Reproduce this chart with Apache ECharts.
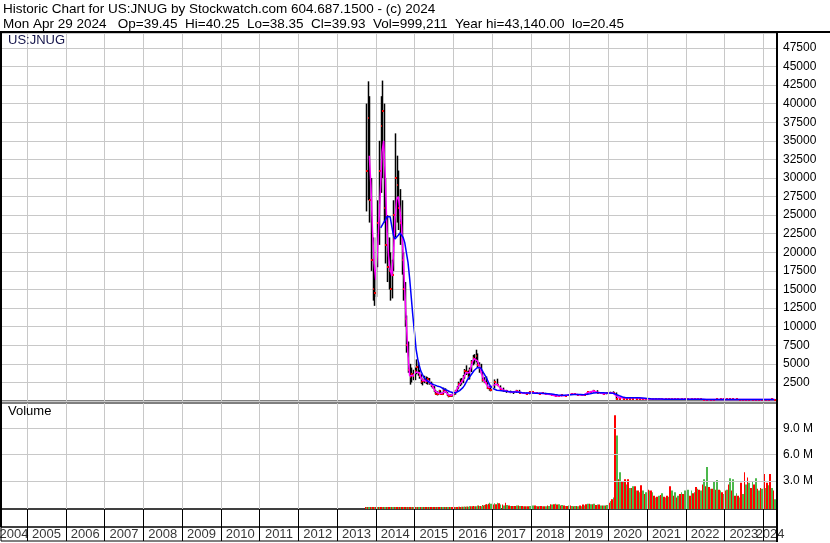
<!DOCTYPE html>
<html><head><meta charset="utf-8">
<script src="https://cdn.jsdelivr.net/npm/echarts@6/dist/echarts.min.js"></script>
<style>html,body{margin:0;padding:0;background:#fff}#c{width:830px;height:543px}</style>
</head><body><div id="c"></div>
<script>
// ---------------- data ----------------
const dates = [
"2013-10-01","2013-10-16","2013-11-01","2013-11-16","2013-12-01","2013-12-16",
"2014-01-01","2014-01-16","2014-02-01","2014-02-16","2014-03-01","2014-03-16","2014-04-01","2014-04-16","2014-05-01","2014-05-16","2014-06-01","2014-06-16",
"2014-07-01","2014-07-16","2014-08-01","2014-08-16","2014-09-01","2014-09-16","2014-10-01","2014-10-16","2014-11-01","2014-11-16","2014-12-01","2014-12-16",
"2015-01-01","2015-01-16","2015-02-01","2015-02-16","2015-03-01","2015-03-16","2015-04-01","2015-04-16","2015-05-01","2015-05-16","2015-06-01","2015-06-16",
"2015-07-01","2015-07-16","2015-08-01","2015-08-16","2015-09-01","2015-09-16","2015-10-01","2015-10-16","2015-11-01","2015-11-16","2015-12-01","2015-12-16",
"2016-01-01","2016-01-16","2016-02-01","2016-02-16","2016-03-01","2016-03-16","2016-04-01","2016-04-16","2016-05-01","2016-05-16","2016-06-01","2016-06-16",
"2016-07-01","2016-07-16","2016-08-01","2016-08-16","2016-09-01","2016-09-16","2016-10-01","2016-10-16","2016-11-01","2016-11-16","2016-12-01","2016-12-16",
"2017-01-15","2017-02-15","2017-03-15","2017-04-15","2017-05-15","2017-06-15","2017-07-15","2017-08-15","2017-09-15","2017-10-15","2017-11-15","2017-12-15",
"2018-01-15","2018-02-15","2018-03-15","2018-04-15","2018-05-15","2018-06-15","2018-07-15","2018-08-15","2018-09-15","2018-10-15","2018-11-15","2018-12-15",
"2019-01-15","2019-02-15","2019-03-15","2019-04-15","2019-05-15","2019-06-15","2019-07-15","2019-08-15","2019-09-15","2019-10-15","2019-11-15","2019-12-15",
"2020-01-15","2020-02-15","2020-03-15","2020-04-15","2020-05-15","2020-06-15","2020-07-15","2020-08-15","2020-09-15","2020-10-15","2020-11-15","2020-12-15",
"2021-01-15","2021-02-15","2021-03-15","2021-04-15","2021-05-15","2021-06-15","2021-07-15","2021-08-15","2021-09-15","2021-10-15","2021-11-15","2021-12-15",
"2022-01-15","2022-02-15","2022-03-15","2022-04-15","2022-05-15","2022-06-15","2022-07-15","2022-08-15","2022-09-15","2022-10-15","2022-11-15","2022-12-15",
"2023-01-15","2023-02-15","2023-03-15","2023-04-15","2023-05-15","2023-06-15","2023-07-15","2023-08-15","2023-09-15","2023-10-15","2023-11-15","2023-12-15",
"2024-01-15","2024-02-15","2024-03-15","2024-04-15"
];

const high = [
40000,43000,41000,30000,22000,17500,
22000,27000,35000,41000,43100,40000,30000,25000,22000,20000,19000,27000,36000,33000,31000,28500,27000,20000,16000,11500,8000,5000,4500,4200,
4500,5600,5200,4200,3600,3000,3400,3300,3200,3100,2600,2300,2000,1500,1300,1500,1400,1200,1800,1700,1200,900,900,1000,
1000,1500,2000,2600,3000,3100,3500,4300,4800,4100,4500,5500,6200,6300,6900,6400,5200,5000,3900,3200,3300,2500,2000,1900,
2900,3000,2100,1800,1500,1400,1300,1500,1500,1200,1150,1250,
1350,1200,1100,1150,1100,1000,950,850,750,850,820,900,
1000,1050,950,900,850,1200,1350,1500,1450,1200,1150,1100,
1250,1300,1150,380,380,390,400,380,370,350,340,330,
320,310,310,310,320,300,300,290,280,280,290,280,
280,290,300,300,280,270,260,260,260,270,280,280,
280,270,270,270,260,260,260,260,250,260,260,260,
260,260,270,260
];

const low = [
25500,27000,24000,17500,13500,12800,
14000,18000,21000,28000,30000,24000,18500,16000,15000,13500,13800,17500,22000,24000,23000,21000,17000,13500,10000,6500,3800,2200,2500,2800,
2800,3600,3400,3000,2300,2100,2400,2300,2200,2200,1900,1700,1200,900,750,900,900,800,1000,1100,700,500,550,600,
600,850,1300,1700,2000,2200,2400,3000,3500,2900,2900,3900,4800,5000,5200,4500,3800,3600,2600,2400,2200,1600,1400,1300,
1700,2000,1400,1300,1100,1050,950,1100,1050,950,900,900,
1050,950,900,950,900,850,780,620,580,620,650,700,
800,850,780,720,700,800,1050,1150,1050,1000,900,900,
950,1000,200,180,200,210,220,210,200,190,180,180,
170,170,170,170,180,160,160,160,150,150,160,150,
150,160,170,170,150,140,140,140,140,140,150,150,
150,150,150,150,140,140,140,140,130,140,140,140,
140,140,150,140
];

const close = [
31000,38000,27000,19000,15000,14500,
20000,24000,31000,37000,39000,26000,21000,18000,17500,15000,17000,25000,30000,29000,26000,24000,19000,15000,11000,7500,4200,3200,3600,3300,
4000,4600,3800,3300,2500,2700,2800,2600,2900,2400,2100,1900,1300,1000,900,1300,1000,1000,1500,1300,800,650,700,850,
900,1400,1800,2300,2400,2700,3200,4000,3900,3200,4200,5200,5800,5600,6000,4800,4500,3900,2800,2600,2400,1800,1600,1500,
2500,2200,1600,1400,1300,1150,1200,1350,1100,1050,1000,1150,
1150,1050,1000,1050,950,900,820,650,680,760,700,850,
950,900,850,780,820,1150,1250,1400,1100,1100,950,1050,
1100,1050,300,260,280,300,310,290,280,270,260,250,
250,240,240,240,250,230,230,220,210,210,220,210,
210,220,230,230,210,200,200,200,200,205,215,215,
215,210,210,210,200,200,200,200,190,200,200,200,
200,200,210,200
];

const maFast = [
null,null,33000,29000,23000,18500,
16300,20000,24400,29000,33500,35000,30000,23000,19500,17700,16800,19500,24400,27100,27500,25800,23500,19500,15000,10500,6100,3400,3200,3400,
3300,3900,4100,3800,3200,2800,2700,2700,2700,2700,2400,2100,1700,1300,1050,1050,1100,1050,1250,1300,1100,850,720,760,
850,1100,1450,1900,2200,2500,2800,3400,3800,3700,3800,4500,5300,5700,5900,5400,4800,4200,3400,2800,2500,2100,1800,1600,
2100,2300,1800,1500,1350,1200,1170,1300,1200,1080,1020,1100,
1150,1080,1020,1030,980,920,850,700,680,740,720,820,
920,920,870,800,810,1050,1220,1350,1200,1100,980,1030,
1080,1080,700,450,440,440,440,440,430,400,350,300,
270,260,255,250,255,250,245,235,225,222,225,222,
222,225,235,238,225,212,205,200,200,205,215,220,
218,212,210,210,205,200,200,200,195,198,200,200,
200,200,205,202
];

const maSlow = [
null,null,null,null,null,null,
null,null,null,23300,23500,24000,24300,24800,25000,24800,23500,22300,21800,21700,22300,22600,22400,22000,21300,20000,18600,16500,14000,11500,
9200,6950,5600,4700,4050,3600,3150,2900,2700,2550,2400,2260,2200,2100,2030,1950,1900,1800,1650,1550,1450,1350,1250,1150,
1100,1100,1150,1250,1400,1600,1800,2100,2500,2900,3200,3500,3800,4100,4350,4500,4550,4450,4100,3700,3300,2900,2400,2000,
1650,1450,1400,1350,1300,1250,1200,1200,1180,1120,1080,1060,
1060,1050,1040,1030,1010,990,950,880,820,790,780,800,
840,870,880,870,850,900,980,1080,1120,1120,1100,1080,
1060,1040,900,700,550,450,440,440,440,430,420,380,
320,280,260,255,255,252,250,245,238,232,230,228,
225,226,230,234,232,225,218,210,205,205,210,215,
218,216,214,212,210,206,204,202,200,199,199,200,
200,200,202,202
];

// volume in millions: largest up-day and down-day volume within each period
const volUp = [
0.02,0.03,0.02,0.03,0.03,0.02,
0.03,0.02,0.03,0.03,0.02,0.03,0.02,0.02,0.03,0.02,0.03,0.03,0.02,0.03,0.02,0.02,0.03,0.02,0.03,0.03,0.02,0.03,0.02,0.03,
0.03,0.02,0.02,0.03,0.02,0.03,0.02,0.03,0.02,0.02,0.03,0.02,0.03,0.02,0.03,0.03,0.02,0.03,0.02,0.03,0.02,0.03,0.03,0.02,
0.03,0.04,0.03,0.05,0.04,0.05,0.06,0.05,0.08,0.06,0.1,0.12,0.15,0.1,0.12,0.2,0.15,0.12,0.2,0.25,0.35,0.3,0.5,0.4,
0.45,0.5,0.3,0.2,0.25,0.15,0.15,0.2,0.15,0.1,0.1,0.15,
0.2,0.15,0.15,0.1,0.12,0.15,0.3,0.4,0.35,0.25,0.15,0.2,
0.15,0.15,0.1,0.12,0.2,0.4,0.35,0.4,0.3,0.2,0.2,0.25,
0.7,1.1,8.2,4.0,3.0,2.6,2.2,2.4,1.9,1.7,1.9,1.7,
1.9,1.7,1.1,1.3,1.6,1.1,1.2,1.9,1.7,1.3,1.7,1.9,
2.0,1.9,1.7,2.1,1.9,3.2,4.6,2.1,3.0,3.1,1.9,1.5,
2.0,3.3,3.2,1.6,1.1,1.5,2.6,2.8,3.0,3.3,1.9,2.1,
2.2,2.5,2.2,0.9
];
const volDown = [
0.03,0.02,0.03,0.02,0.03,0.03,
0.02,0.03,0.02,0.02,0.03,0.02,0.03,0.03,0.02,0.03,0.02,0.02,0.03,0.02,0.03,0.03,0.02,0.03,0.02,0.02,0.03,0.02,0.03,0.02,
0.02,0.03,0.03,0.02,0.03,0.02,0.03,0.02,0.03,0.03,0.02,0.03,0.02,0.03,0.02,0.02,0.03,0.02,0.03,0.02,0.03,0.02,0.02,0.03,
0.02,0.03,0.04,0.04,0.05,0.04,0.05,0.06,0.06,0.08,0.08,0.1,0.12,0.15,0.1,0.15,0.2,0.15,0.25,0.2,0.3,0.35,0.4,0.3,
0.3,0.35,0.45,0.3,0.5,0.2,0.15,0.15,0.2,0.15,0.12,0.1,
0.3,0.2,0.1,0.15,0.1,0.2,0.35,0.35,0.3,0.2,0.2,0.15,
0.2,0.1,0.15,0.2,0.3,0.35,0.4,0.35,0.25,0.3,0.2,0.2,
0.5,0.9,10.5,3.2,3.0,3.2,3.2,2.2,2.4,1.9,2.5,1.5,
2.0,1.9,1.3,1.2,1.4,1.2,1.3,2.4,1.3,1.1,1.5,1.5,
1.3,1.3,1.6,2.3,2.0,2.6,2.4,2.3,2.1,2.0,2.0,1.7,
1.9,2.6,1.9,1.3,1.3,2.8,4.0,3.4,2.2,2.6,2.1,2.2,
3.8,2.8,3.8,1.9
];

const years = ["2004","2005","2006","2007","2008","2009","2010","2011","2012","2013","2014","2015","2016","2017","2018","2019","2020","2021","2022","2023","2024"];
const volTicks = [3, 6, 9];

const titleLine1 = "Historic Chart for US:JNUG by Stockwatch.com 604.687.1500 - (c) 2024";
const titleLine2 = "Mon Apr 29 2024   Op=39.45  Hi=40.25  Lo=38.35  Cl=39.93  Vol=999,211  Year hi=43,140.00  lo=20.45";

// ---------------- chart ----------------
function toTs(s){const p=s.split('-').map(Number);return new Date(p[0],p[1]-1,p[2]).getTime();}
const T = dates.map(toTs);
const X_MIN = toTs('2004-04-30'), X_MAX = toTs('2024-05-10');
const yearStart = years.map(y => new Date(+y,0,1).getTime());
const yearMarks = yearStart.filter(t => t > X_MIN && t < X_MAX).map(t => ({xAxis: t}));
const labelData = years.map((y,i) => {
  const a = Math.max(yearStart[i], X_MIN);
  const b = Math.min(new Date(+y+1,0,1).getTime(), X_MAX);
  return [(a+b)/2, 0.5, y];
});

const GRAY = '#c8c8c8', GREEN = '#4cb84c', FONT = '"Liberation Sans", Arial, sans-serif';
function mline(color, extra){
  return {silent:true, symbol:['none','none'], label:{show:false}, animation:false,
    lineStyle:{color:color, width:1, type:'solid'}, emphasis:{disabled:true},
    data: yearMarks.concat(extra || [])};
}
const hidden = {axisLine:{show:false}, axisTick:{show:false}, axisLabel:{show:false}, splitLine:{show:false}};

const chart = echarts.init(document.getElementById('c'), null, {renderer:'canvas'});
chart.setOption({
  animation:false,
  backgroundColor:'#fff',
  grid:[
    {left:1, top:33, width:776, height:368, show:true, borderColor:'#000', borderWidth:1},
    {left:1, top:403, width:776, height:106, show:true, borderColor:'#000', borderWidth:1},
    {left:1, top:509, width:776, height:18, show:true, borderColor:'#000', borderWidth:1},
    {left:1, top:527, width:776, height:14, show:true, borderColor:'#000', borderWidth:1}
  ],
  xAxis:[0,1,2,3].map(i => Object.assign({type:'time', gridIndex:i, min:X_MIN, max:X_MAX}, hidden)),
  yAxis:[
    {type:'value', gridIndex:0, position:'right', min:0, max:49500, interval:2500,
      axisLine:{show:false}, axisTick:{show:false},
      axisLabel:{margin:6, fontSize:12, fontFamily:FONT, color:'#000',
        formatter: v => (v > 0 && v % 2500 === 0 && v <= 47500) ? String(v) : ''},
      splitLine:{show:true, lineStyle:{color:GRAY, width:1}}},
    {type:'value', gridIndex:1, position:'right', min:-0.2, max:11.9, splitNumber:4,
      axisLine:{show:false}, axisTick:{show:false}, splitLine:{show:false},
      axisLabel:{margin:6, fontSize:12, fontFamily:FONT, color:'#000', customValues: volTicks,
        formatter: v => volTicks.some(t => Math.abs(t - v) < 1e-6) ? v.toFixed(1) + ' M' : ''}},
    Object.assign({type:'value', gridIndex:2, min:0, max:1}, hidden),
    Object.assign({type:'value', gridIndex:3, min:0, max:1}, hidden)
  ],
  series:[
    {type:'line', xAxisIndex:0, yAxisIndex:0, data:[], z:1, markLine: mline(GRAY)},
    {type:'custom', xAxisIndex:0, yAxisIndex:0, z:2, clip:true,
      data: T.map((t,i) => [t, high[i], low[i], close[i]]),
      encode:{x:0, y:[1,2,3]},
      renderItem(params, api){
        const t = api.value(0);
        const ph = api.coord([t, api.value(1)]), pl = api.coord([t, api.value(2)]), pc = api.coord([t, api.value(3)]);
        const x = Math.round(ph[0]) + 0.5;
        return {type:'group', children:[
          {type:'line', shape:{x1:x, y1:ph[1], x2:x, y2:pl[1]}, style:{stroke:'#000', lineWidth:1.5}},
          {type:'rect', shape:{x:Math.round(pc[0]), y:Math.round(pc[1])-1, width:2, height:2}, style:{fill:'#ff0000'}}
        ]};
      }},
    {type:'line', xAxisIndex:0, yAxisIndex:0, z:3, symbol:'none', showSymbol:false,
      data: T.map((t,i) => [t, maFast[i]]), lineStyle:{color:'#ff00ff', width:1.5}},
    {type:'line', xAxisIndex:0, yAxisIndex:0, z:4, symbol:'none', showSymbol:false,
      data: T.map((t,i) => [t, maSlow[i]]), lineStyle:{color:'#0000ff', width:1.5}},
    {type:'line', xAxisIndex:1, yAxisIndex:1, data:[], z:1,
      markLine: mline(GRAY, volTicks.map(v => ({yAxis:v})))},
    {type:'custom', xAxisIndex:1, yAxisIndex:1, z:2, clip:true,
      data: T.map((t,i) => [t, volUp[i], volDown[i]]),
      encode:{x:0, y:[1,2]},
      renderItem(params, api){
        const i = params.dataIndex;
        const t = api.value(0);
        const x = api.coord([t, 0])[0];
        const nt = i + 1 < T.length ? T[i+1] : t + (t - T[i-1]);
        const half = (api.coord([nt, 0])[0] - x) / 2;
        const xl = Math.round(x - half), xm = Math.round(x), xr = Math.round(x + half);
        const base = params.coordSys.y + params.coordSys.height;
        const yu = api.coord([t, api.value(1)])[1], yd = api.coord([t, api.value(2)])[1];
        return {type:'group', children:[
          {type:'rect', shape:{x:xl, y:yd, width:Math.max(1, xm - xl), height:base - yd}, style:{fill:'#ff0000'}},
          {type:'rect', shape:{x:xm, y:yu, width:Math.max(1, xr - xm), height:base - yu}, style:{fill:GREEN}}
        ]};
      }},
    {type:'line', xAxisIndex:2, yAxisIndex:2, data:[], z:1, markLine: mline('#000')},
    {type:'scatter', xAxisIndex:3, yAxisIndex:3, z:2, symbolSize:1, silent:true,
      itemStyle:{color:'rgba(0,0,0,0)'},
      data: labelData,
      label:{show:true, position:'inside', formatter: p => p.value[2], fontSize:13, fontFamily:FONT, color:'#000'},
      markLine: mline('#000')}
  ],
  graphic:[
    {type:'text', left:3, top:2, z:100, style:{text:titleLine1, font:'13.5px ' + FONT, fill:'#000'}},
    {type:'text', left:3, top:17, z:100, style:{text:titleLine2, font:'13.5px ' + FONT, fill:'#000'}},
    {type:'text', left:8, top:34, z:100, style:{text:'US:JNUG', font:'13px ' + FONT, fill:'#14144a'}},
    {type:'text', left:8, top:405, z:100, style:{text:'Volume', font:'13px ' + FONT, fill:'#000'}},
    {type:'rect', left:0, top:31, z:100, shape:{width:830, height:2}, style:{fill:'#000'}},
    {type:'rect', left:0, top:31, z:100, shape:{width:2, height:496}, style:{fill:'#000'}},
    {type:'rect', left:776, top:31, z:100, shape:{width:2, height:511}, style:{fill:'#000'}}
  ]
});
</script>
</body></html>
